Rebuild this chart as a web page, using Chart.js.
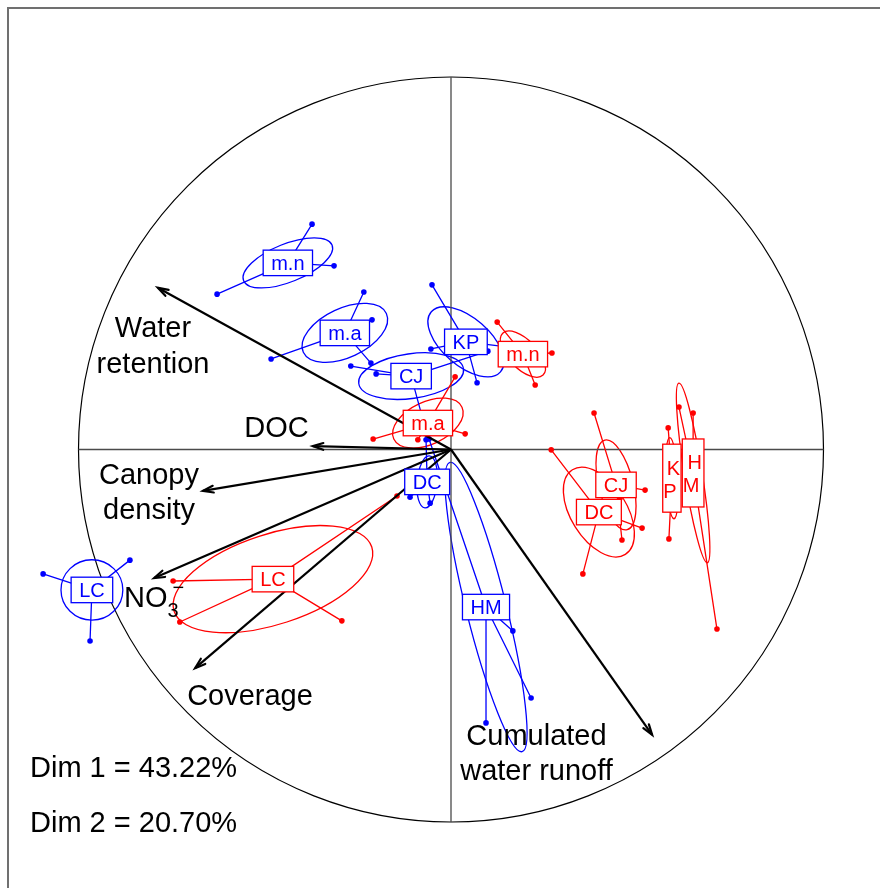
<!DOCTYPE html>
<html><head><meta charset="utf-8">
<script src="https://cdn.jsdelivr.net/npm/chart.js@4.4.1/dist/chart.umd.min.js"></script>
<style>html,body{margin:0;padding:0;background:#fff;}canvas{display:block;}</style>
</head><body>
<canvas id="c" width="880" height="888" style="width:880px;height:888px"></canvas>
<script>
// ================= DATA (correlation-circle units, radius 1) =================
// Group 1 (blue)
const blueLabels   = ['m.n','m.a','KP','CJ','DC','HM','LC'];
const blueCentreX  = [-0.438,-0.285, 0.040,-0.107,-0.064, 0.094,-0.964];
const blueCentreY  = [ 0.501, 0.313, 0.289, 0.197,-0.087,-0.423,-0.377];
const bluePointsX  = [[-0.373,-0.314,-0.628],[-0.234,-0.212,-0.483,-0.215],[-0.051,-0.054,0.070,0.172],
                      [-0.269,-0.201,-0.062,0.099],[-0.067,-0.110,-0.056,-0.030],[0.166,0.215,0.094,-0.059],
                      [-1.095,-0.862,-0.969]];
const bluePointsY  = [[0.605,0.493,0.417],[0.423,0.348,0.243,0.232],[0.442,0.270,0.179,0.273],
                      [0.224,0.203,0.031,0.264],[0.026,-0.128,-0.144,-0.103],[-0.487,-0.667,-0.734,0.028],
                      [-0.334,-0.297,-0.514]];
const blueEllipseA = [0.128,0.123,0.123,0.142,0.070,0.400,0.083];
const blueEllipseB = [0.051,0.066,0.064,0.060,0.027,0.054,0.081];
const blueEllipseAngle = [22,25,-41,8,85,-76,0];

// Group 2 (red)
const redLabels    = ['m.n','m.a','CJ','DC','K\nP','H\nM','LC'];
const redCentreX   = [ 0.193,-0.062, 0.443, 0.397, 0.593, 0.650,-0.478];
const redCentreY   = [ 0.256, 0.071,-0.095,-0.168,-0.077,-0.063,-0.348];
const redPointsX   = [[0.124,0.271,0.226],[0.011,-0.209,0.038,-0.089],[0.384,0.521,0.459],
                      [0.269,0.513,0.354,0.454],[0.583,0.585],[0.612,0.650,0.714],
                      [-0.746,-0.728,-0.293,-0.145]];
const redPointsY   = [[0.342,0.259,0.173],[0.195,0.028,0.042,0.026],[0.098,-0.109,-0.243],
                      [-0.001,-0.211,-0.334,-0.130],[0.058,-0.240],[0.114,0.098,-0.482],
                      [-0.353,-0.463,-0.460,-0.125]];
const redEllipseA  = [0.078,0.101,0.124,0.134,0.109,0.244,0.279];
const redEllipseB  = [0.038,0.057,0.046,0.075,0.016,0.024,0.121];
const redEllipseAngle = [-46,25,-76,-58,-87,-81,18];

// Variables (arrows)
const varNames = [['Water','retention'],['DOC'],['Canopy','density'],['NO3'],['Coverage'],['Cumulated','water runoff']];
const varX = [-0.787,-0.371,-0.666,-0.797,-0.687, 0.540];
const varY = [ 0.434, 0.009,-0.111,-0.345,-0.587,-0.766];
const inertiaText = ['Dim 1 = 43.22%','Dim 2 = 20.70%'];

// ================= LAYOUT / STYLE =================
const BLUE = '#0000ff', RED = '#ff0000';
const FONT = '"Liberation Sans", Arial, Helvetica, sans-serif';
// label anchors: [x centre (left for NO3), first baseline y] in plot units
const varLabelAt = [[-0.800,0.302],[-0.4685,0.0336],[-0.8107,-0.0926],[-0.8779,-0.4228],[-0.5396,-0.6859],[0.2295,-0.792]];
const PX_PER_UNIT = 372.5, CX = 451, CY = 449.5;
const xMin = -CX/PX_PER_UNIT, xMax = (880-CX)/PX_PER_UNIT;
const yMax = CY/PX_PER_UNIT, yMin = -(888-CY)/PX_PER_UNIT;

function starDatasets(cx, cy, px, py, color, order) {
  const line = [], pts = [];
  cx.forEach((_, g) => {
    px[g].forEach((x, i) => {
      line.push({x: cx[g], y: cy[g]}, {x: x, y: py[g][i]}, {x: x, y: null});
      pts.push({x: x, y: py[g][i]});
    });
  });
  return [
    {data: line, showLine: true, spanGaps: false, borderColor: color, borderWidth: 1.3, pointRadius: 0, order: order},
    {data: pts, showLine: false, pointRadius: 2.8, pointBackgroundColor: color, backgroundColor: color,
     borderColor: color, pointBorderWidth: 0, order: order - 1}
  ];
}

const datasets = [];
datasets.push({data: [{x:-1,y:0},{x:1,y:0}], showLine: true, borderColor: '#4a4a4a', borderWidth: 1.3, pointRadius: 0, order: 100});
datasets.push({data: [{x:0,y:-1},{x:0,y:1}], showLine: true, borderColor: '#4a4a4a', borderWidth: 1.3, pointRadius: 0, order: 100});
datasets.push(...starDatasets(blueCentreX, blueCentreY, bluePointsX, bluePointsY, BLUE, 90));
datasets.push(...starDatasets(redCentreX, redCentreY, redPointsX, redPointsY, RED, 80));
varX.forEach((x, i) => {
  datasets.push({data: [{x:0,y:0},{x:x,y:varY[i]}], showLine: true, borderColor: '#000', borderWidth: 2.2, pointRadius: 0, order: 10});
});

function drawEllipses(ctx, X, Y, k, cx, cy, A, B, ang, color) {
  ctx.strokeStyle = color; ctx.lineWidth = 1.3;
  cx.forEach((_, g) => {
    ctx.beginPath();
    ctx.ellipse(X(cx[g]), Y(cy[g]), A[g]*k, B[g]*k, -ang[g]*Math.PI/180, 0, 2*Math.PI);
    ctx.stroke();
  });
}
function drawBoxes(ctx, X, Y, labels, cx, cy, color) {
  ctx.font = '20px ' + FONT;
  ctx.textAlign = 'center'; ctx.textBaseline = 'alphabetic';
  labels.forEach((lab, g) => {
    const lines = lab.split('\n');
    const w = Math.max(...lines.map(l => ctx.measureText(l).width));
    const bw = lines.length > 1 ? w + 5 : w + 16;
    const bh = lines.length > 1 ? 68 : 25.5;
    const x = X(cx[g]), y = Y(cy[g]);
    ctx.fillStyle = '#fff';
    ctx.fillRect(x - bw/2, y - bh/2, bw, bh);
    ctx.strokeStyle = color; ctx.lineWidth = 1.3;
    ctx.strokeRect(x - bw/2, y - bh/2, bw, bh);
    ctx.fillStyle = color;
    if (lines.length === 1) ctx.fillText(lines[0], x, y + 6.8);
    else {
      ctx.fillText(lines[0], x + 1.5, y - 10.5 + 7);
      ctx.fillText(lines[1], x - 2, y + 12.5 + 7);
    }
  });
}

const biplotPlugin = {
  id: 'biplot',
  beforeDatasetsDraw(chart) {
    const ctx = chart.ctx, xs = chart.scales.x, ys = chart.scales.y;
    const X = v => xs.getPixelForValue(v), Y = v => ys.getPixelForValue(v);
    const k = X(1) - X(0);
    ctx.save();
    ctx.strokeStyle = '#707070'; ctx.lineWidth = 2;
    ctx.strokeRect(8, 8, 1000, 1000);
    ctx.beginPath(); ctx.arc(X(0), Y(0), k, 0, 2*Math.PI);
    ctx.strokeStyle = '#000'; ctx.lineWidth = 1.2; ctx.stroke();
    drawEllipses(ctx, X, Y, k, blueCentreX, blueCentreY, blueEllipseA, blueEllipseB, blueEllipseAngle, BLUE);
    drawEllipses(ctx, X, Y, k, redCentreX, redCentreY, redEllipseA, redEllipseB, redEllipseAngle, RED);
    ctx.restore();
  },
  afterDatasetsDraw(chart) {
    const ctx = chart.ctx, xs = chart.scales.x, ys = chart.scales.y;
    const X = v => xs.getPixelForValue(v), Y = v => ys.getPixelForValue(v);
    ctx.save();
    // arrow heads
    ctx.strokeStyle = '#000'; ctx.lineWidth = 2.2; ctx.lineCap = 'round';
    varX.forEach((vx, i) => {
      const tx = X(vx), ty = Y(varY[i]);
      const phi = Math.atan2(ty - Y(0), tx - X(0));
      const L = 11, a = 18*Math.PI/180;
      ctx.beginPath();
      ctx.moveTo(tx - L*Math.cos(phi - a), ty - L*Math.sin(phi - a));
      ctx.lineTo(tx, ty);
      ctx.lineTo(tx - L*Math.cos(phi + a), ty - L*Math.sin(phi + a));
      ctx.stroke();
    });
    // group label boxes
    drawBoxes(ctx, X, Y, blueLabels, blueCentreX, blueCentreY, BLUE);
    drawBoxes(ctx, X, Y, redLabels, redCentreX, redCentreY, RED);
    // variable labels
    ctx.fillStyle = '#000'; ctx.textBaseline = 'alphabetic';
    varNames.forEach((lines, i) => {
      const ax = X(varLabelAt[i][0]), ay = Y(varLabelAt[i][1]);
      if (lines[0] === 'NO3') {
        ctx.textAlign = 'left';
        ctx.font = '29px ' + FONT;
        ctx.fillText('NO', ax, ay);
        const w = ctx.measureText('NO').width;
        ctx.font = '20px ' + FONT;
        ctx.fillText('3', ax + w, ay + 10);
        ctx.fillText('\u2212', ax + w + 5, ay - 13);
        return;
      }
      ctx.textAlign = 'center';
      ctx.font = '29px ' + FONT;
      lines.forEach((l, j) => ctx.fillText(l, ax, ay + j*35.5));
    });
    // inertia text
    ctx.textAlign = 'left'; ctx.font = '29px ' + FONT;
    ctx.fillText(inertiaText[0], 30, 777);
    ctx.fillText(inertiaText[1], 30, 832);
    ctx.restore();
  }
};

new Chart(document.getElementById('c'), {
  type: 'scatter',
  data: {datasets: datasets},
  options: {
    responsive: false, animation: false, devicePixelRatio: 1, events: [],
    layout: {padding: 0, autoPadding: false},
    plugins: {legend: {display: false}, tooltip: {enabled: false}},
    elements: {line: {tension: 0}},
    scales: {
      x: {type: 'linear', min: xMin, max: xMax, display: false},
      y: {type: 'linear', min: yMin, max: yMax, display: false}
    }
  },
  plugins: [biplotPlugin]
});
</script>
</body></html>
